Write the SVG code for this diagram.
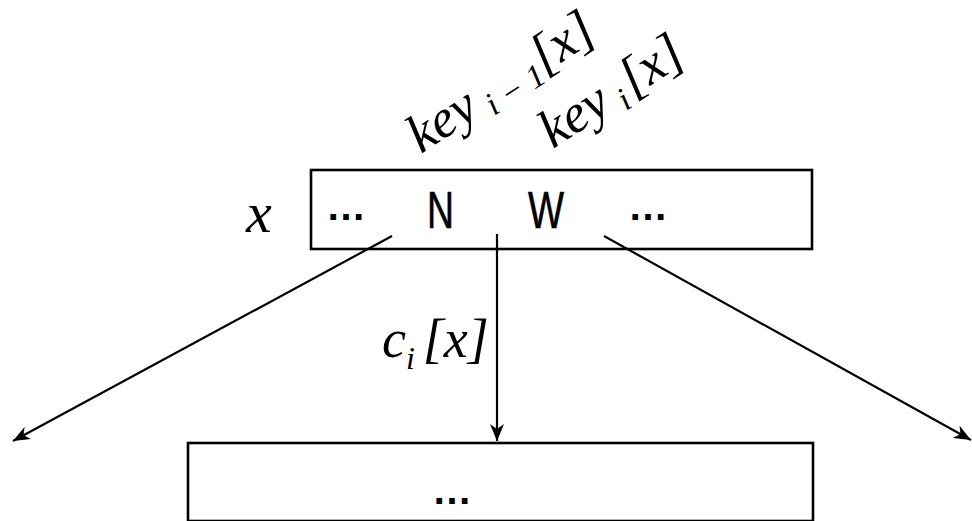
<svg xmlns="http://www.w3.org/2000/svg" width="972" height="521" viewBox="0 0 972 521">
<defs>
<style>
.box{fill:#fff;stroke:#000;stroke-width:2.6}
.edge{stroke:#000;stroke-width:2.2;fill:none;marker-end:url(#ah)}
.m{font-family:"Liberation Serif","DejaVu Serif",serif;font-style:italic}
.s{font-family:"Liberation Sans","DejaVu Sans",sans-serif}
</style>
<marker id="ah" markerUnits="userSpaceOnUse" markerWidth="18" markerHeight="14" refX="17" refY="7" orient="auto">
<path d="M0,0 L17,7 L0,14 L5,7 Z" fill="#000"/>
</marker>
</defs>
<g id="node-x">
<rect class="box" x="311" y="170" width="501" height="79"/>
<text class="m" x="246" y="232" font-size="58">x</text>
<text class="s" x="346" y="220" font-size="40" font-weight="bold" text-anchor="middle">…</text>
<text class="s" x="427" y="228" font-size="51" textLength="27" lengthAdjust="spacingAndGlyphs" stroke="#000" stroke-width="0.6">N</text>
<text class="s" x="528" y="228" font-size="51" textLength="36" lengthAdjust="spacingAndGlyphs" stroke="#000" stroke-width="0.6">W</text>
<text class="s" x="648" y="220" font-size="40" font-weight="bold" text-anchor="middle">…</text>
</g>
<g id="node-child">
<rect class="box" x="188" y="443" width="625" height="78"/>
<text class="s" x="452" y="504" font-size="40" font-weight="bold" text-anchor="middle">…</text>
</g>
<g id="labels" class="m">
<text font-size="54" transform="translate(421,154) rotate(-33)">key<tspan font-size="33" dx="10" dy="8">i − 1</tspan><tspan dy="-8">[x]</tspan></text>
<text font-size="54" transform="translate(553,149) rotate(-33)">key<tspan font-size="33" dx="10" dy="8">i</tspan><tspan dy="-8" dx="4">[x]</tspan></text>
<text x="382" y="357" font-size="54">c<tspan font-size="32" dy="12">i</tspan><tspan dy="-12" dx="8">[x]</tspan></text>
</g>
<g id="connectors">
<line class="edge" x1="392" y1="236" x2="13" y2="441"/>
<line class="edge" x1="497" y1="234" x2="497" y2="441"/>
<line class="edge" x1="604" y1="236" x2="971" y2="440"/>
</g>
</svg>
